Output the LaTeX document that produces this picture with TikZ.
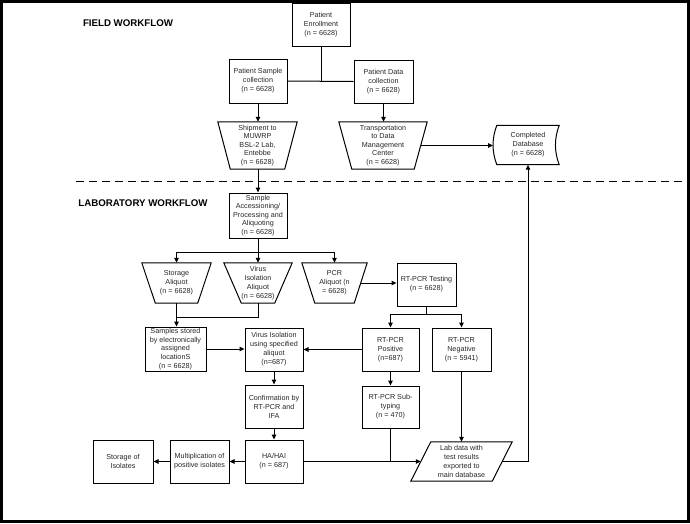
\documentclass[tikz,border=0pt]{standalone}
\usepackage{fontspec}
\setmainfont{Liberation Sans}
\usetikzlibrary{arrows.meta,calc}
\tikzset{
  box/.style={draw=black, line width=1pt, align=center, inner sep=0pt, font=\fontsize{7.2}{9}\selectfont, text=black!85},
  txt/.style={draw=none, align=center, inner sep=0pt, font=\fontsize{7.2}{9}\selectfont, text=black!85},
  tight/.style={font=\fontsize{7.2}{8.6}\selectfont},
  ln/.style={line width=1pt, draw=black},
  arr/.style={line width=1pt, draw=black, -{Triangle[length=5pt,width=4.5pt]}},
  ttl/.style={inner sep=0pt, font=\bfseries\fontsize{9.7}{11}\selectfont},
  sep/.style={line width=1.2pt, dash pattern=on 8pt off 5pt}
}
\newcommand\trapedge[2]{\draw[ln] (#1.north west) -- (#1.north east) -- ([xshift=-#2pt]#1.south east) -- ([xshift=#2pt]#1.south west) -- cycle;}
\begin{document}
\begin{tikzpicture}[x=1pt,y=-1pt]
\useasboundingbox (0,0) rectangle (690,523);
\draw[line width=3pt] (1.5,1.5) rectangle (688.5,521.5);

% titles
\node[ttl] (t1) at (128,23) {FIELD WORKFLOW};
\node[ttl] (t2) at (143,203.3) {LABORATORY WORKFLOW};

% separator
\coordinate (sepL) at (76,181.7);
\coordinate (sepR) at (688,181.7);
\draw[sep] (sepL) -- (sepR);

% field workflow
\node[box, minimum width=58, minimum height=43] (enroll) at (321,24.5) {Patient\\Enrollment\\(n = 6628)};
\node[box, minimum width=58, minimum height=44] (sample) at (258,81) {Patient Sample\\collection\\(n = 6628)};
\node[box, minimum width=59, minimum height=43] (data) at (383.5,81.5) {Patient Data\\collection\\(n = 6628)};
\node[txt, tight, minimum width=79, minimum height=47] (ship) at (257.5,145.5) {Shipment to\\MUWRP\\BSL-2 Lab,\\Entebbe\\(n = 6628)};
\trapedge{ship}{12.5}
\node[txt, tight, minimum width=88, minimum height=47] (trans) at (383,145.5) {Transportation\\to Data\\Management\\Center\\(n = 6628)};
\trapedge{trans}{13}
\node[txt, minimum width=62, minimum height=39] (db) at (528,145) {Completed\\Database\\(n = 6628)};
\draw[ln] (db.north west) -- (db.north east) .. controls +(-5,13) and +(-5,-13) .. (db.south east) -- (db.south west) .. controls +(-5,-13) and +(-5,13) .. (db.north west);

% laboratory workflow
\node[box, tight, minimum width=58, minimum height=45] (access) at (258,215.5) {Sample\\Accessioning/\\Processing and\\Aliquoting\\(n = 6628)};
\node[txt, minimum width=69, minimum height=40] (storal) at (176.5,283) {Storage\\Aliquot\\(n = 6628)};
\trapedge{storal}{13.5}
\node[txt, minimum width=68, minimum height=40] (viral) at (258,283) {Virus\\Isolation\\Aliquot\\(n = 6628)};
\trapedge{viral}{17.5}
\node[txt, minimum width=65, minimum height=40] (pcral) at (334.5,283) {PCR\\Aliquot (n\\= 6628)};
\trapedge{pcral}{13}
\node[box, minimum width=59, minimum height=43] (rttest) at (426.5,284.5) {RT-PCR Testing\\(n = 6628)};
\node[box, tight, minimum width=61, minimum height=44] (stored) at (175.5,349) {Samples stored\\by electronically\\assigned\\locationS\\(n = 6628)};
\node[box, minimum width=58, minimum height=43] (visol) at (274,349.5) {Virus Isolation\\using specified\\aliquot\\(n=687)};
\node[box, minimum width=57, minimum height=43] (rtpos) at (390.5,349.5) {RT-PCR\\Positive\\(n=687)};
\node[box, minimum width=59, minimum height=43] (rtneg) at (461.5,349.5) {RT-PCR\\Negative\\(n = 5941)};
\node[box, minimum width=57, minimum height=42] (subtyp) at (390.5,407) {RT-PCR Sub-\\typing\\(n = 470)};
\node[box, minimum width=58, minimum height=43] (confirm) at (274,406.5) {Confirmation by\\RT-PCR and\\IFA};
\node[box, minimum width=58, minimum height=43] (hahai) at (274,461.5) {HA/HAI\\(n = 687)};
\node[box, minimum width=59, minimum height=43] (mult) at (199.5,461.5) {Multiplication of\\positive isolates};
\node[box, minimum width=60, minimum height=43] (storiso) at (123,461.5) {Storage of\\Isolates};
\node[txt, minimum width=101, minimum height=39] (labdata) at (461.5,461.5) {Lab data with\\test results\\exported to\\main database};
\draw[ln] ([xshift=20pt]labdata.north west) -- (labdata.north east) -- ([xshift=-20pt]labdata.south east) -- (labdata.south west) -- cycle;

% connectors: field
\draw[ln] (enroll.south) -- (enroll.south |- sample.east);
\draw[ln] (sample.east) -- (data.west);
\draw[arr] (sample.south) -- (sample.south |- ship.north);
\draw[arr] (data.south) -- (data.south |- trans.north);
\draw[arr] ([xshift=-6.5pt]trans.east) -- ([xshift=-3.8pt]trans.east -| db.west);
\draw[arr] (ship.south) -- (ship.south -| access.north) -- (access.north);

% connectors: lab
\draw[arr] (access.south) -- (viral.north);
\draw[arr] (access.south) -- ++(0,14) -| (storal.north);
\draw[arr] (access.south) -- ++(0,14) -| (pcral.north);
\draw[arr] (storal.south) -- (storal.south |- stored.north);
\draw[ln] (viral.south) |- ($(storal.south)+(0,14)$);
\draw[arr] ([xshift=-6.5pt]pcral.east) -- (pcral.east -| rttest.west);
\draw[arr] (rttest.south) -- ++(0,8) -| (rtpos.north);
\draw[arr] (rttest.south) -- ++(0,8) -| (rtneg.north);
\draw[arr] (stored.east) -- (stored.east -| visol.west);
\draw[arr] (rtpos.west) -- (rtpos.west -| visol.east);
\draw[arr] (rtpos.south) -- (subtyp.north);
\draw[arr] (visol.south) -- (confirm.north);
\draw[arr] (confirm.south) -- (hahai.north);
\draw[arr] (hahai.west) -- (mult.east);
\draw[arr] (mult.west) -- (storiso.east);
\draw[arr] (hahai.east) -- ([xshift=10pt]labdata.west);
\draw[ln] (subtyp.south) -- (subtyp.south |- hahai.east);
\draw[arr] (rtneg.south) -- (rtneg.south |- labdata.north);
\draw[arr] ([xshift=-10pt]labdata.east) -| (db.south);
\end{tikzpicture}
\end{document}
